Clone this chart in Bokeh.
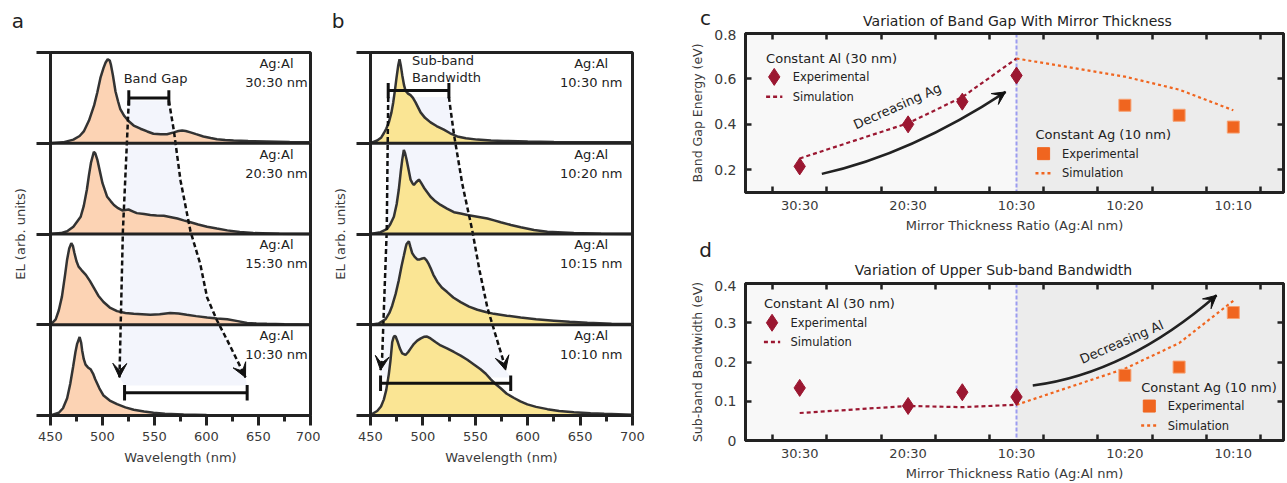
from bokeh.plotting import figure
from bokeh.layouts import row, column
from bokeh.models import Range1d, FixedTicker, LinearAxis, Arrow, VeeHead, Span, BoxAnnotation
from bokeh.core.properties import value
from bokeh.embed import file_html
from bokeh.resources import INLINE

FONT = "DejaVu Sans"
INK = "#222222"
TXT = "#3a3a3a"
CURVE = "#333333"
PEACH = "#fcd0ae"
YELLOW = "#fae38c"
SHADE = "#f3f5fc"
CRIMSON = "#9b1731"
ORANGE = "#f0651f"

# ---------------- data: panel a (EL spectra, constant Al) ----------------
wl_ticks = [450, 500, 550, 600, 650, 700]
wl_minor = [475, 525, 575, 625, 675]
a_names = ["30:30 nm", "20:30 nm", "15:30 nm", "10:30 nm"]
a_wl_3030 = [450, 462, 472, 478, 482, 487, 492, 495, 498, 501, 503, 505, 507, 508, 510, 512.5, 515, 517, 521, 525, 530,
             536.5, 543, 549, 556, 562, 568.6, 573, 576.6, 580, 584.6, 590, 597, 604, 610, 618, 626, 640, 658, 680, 700]
a_el_3030 = [0.0, 0.01, 0.04, 0.08, 0.13, 0.25, 0.42, 0.56, 0.72, 0.83, 0.89, 0.925, 0.91, 0.87, 0.75, 0.57, 0.46, 0.38,
             0.30, 0.245, 0.195, 0.16, 0.13, 0.105, 0.098, 0.10, 0.12, 0.135, 0.14, 0.135, 0.12, 0.10, 0.075, 0.058,
             0.045, 0.036, 0.03, 0.024, 0.02, 0.014, 0.01]
a_wl_2030 = [450, 460, 466, 472, 479, 482, 485, 487, 489, 491.7, 493, 495, 497.5, 500, 504.5, 508, 511, 515, 519, 522,
             525, 529, 533, 540, 546, 552, 559, 566, 572, 578, 584.6, 592, 600.6, 610, 620, 632, 645, 670, 700]
a_el_2030 = [0.0, 0.01, 0.03, 0.08, 0.19, 0.31, 0.49, 0.65, 0.79, 0.906, 0.89, 0.82, 0.69, 0.56, 0.41, 0.36, 0.32,
             0.285, 0.26, 0.265, 0.27, 0.25, 0.23, 0.22, 0.21, 0.205, 0.20, 0.185, 0.17, 0.15, 0.13, 0.105, 0.08,
             0.06, 0.04, 0.022, 0.01, 0.004, 0.0]
a_wl_1530 = [450, 455, 458, 461, 464, 466, 468, 470, 471.5, 473, 475, 477, 480, 484, 488, 492, 496, 501, 507, 514,
             522, 530, 538, 546, 555, 565, 573, 581, 590, 600.6, 610, 620, 630, 639, 648, 658, 675, 700]
a_el_1530 = [0.0, 0.06, 0.16, 0.31, 0.55, 0.72, 0.84, 0.90, 0.87, 0.79, 0.70, 0.64, 0.60, 0.55, 0.48, 0.40, 0.32,
             0.25, 0.19, 0.15, 0.13, 0.12, 0.115, 0.11, 0.115, 0.13, 0.125, 0.11, 0.095, 0.08, 0.07, 0.06, 0.04,
             0.02, 0.014, 0.01, 0.005, 0.0]
a_wl_1030 = [450, 458, 462, 466, 469, 471.8, 474, 475.6, 478, 479.5, 480.4, 482, 483.7, 486, 488.5, 491, 493, 497,
             501, 507, 514, 522, 530, 540, 549, 560, 578, 600, 626, 660, 700]
a_el_1030 = [0.0, 0.03, 0.08, 0.19, 0.35, 0.54, 0.70, 0.79, 0.865, 0.80, 0.72, 0.62, 0.56, 0.53, 0.51, 0.46, 0.40,
             0.30, 0.22, 0.165, 0.125, 0.09, 0.064, 0.045, 0.03, 0.02, 0.01, 0.006, 0.004, 0.002, 0.0]

# ---------------- data: panel b (EL spectra, constant Ag) ----------------
b_names = ["10:30 nm", "10:20 nm", "10:15 nm", "10:10 nm"]
b_wl_1030 = [450, 456.4, 460, 462.7, 465, 467.5, 470, 471.7, 473.5, 474.8, 476.5, 477.7, 479, 480.3, 482, 483.4,
             485.5, 488.2, 490.5, 493, 497.8, 502, 507.3, 513, 520, 526, 532.8, 541, 551.9, 565, 577.4, 600, 625,
             660, 700]
b_el_1030 = [0.0, 0.03, 0.06, 0.11, 0.16, 0.23, 0.34, 0.45, 0.60, 0.72, 0.86, 0.925, 0.85, 0.75, 0.64, 0.58, 0.55,
             0.53, 0.50, 0.45, 0.34, 0.28, 0.23, 0.19, 0.15, 0.11, 0.075, 0.055, 0.04, 0.03, 0.025, 0.02, 0.015,
             0.012, 0.01]
b_wl_1020 = [450, 459.6, 466, 469, 472.3, 475, 477, 479, 480.3, 481.8, 483, 484.4, 486.5, 488.2, 490, 491.4, 493.5,
             496.2, 498.5, 501, 507.3, 512, 516.9, 523, 529.6, 536, 542.4, 552, 561.5, 568, 574.2, 584, 593.3, 606,
             618.8, 644, 670, 700]
b_el_1020 = [0.0, 0.02, 0.056, 0.11, 0.19, 0.33, 0.49, 0.70, 0.82, 0.925, 0.89, 0.82, 0.70, 0.60, 0.56, 0.54, 0.57,
             0.60, 0.56, 0.51, 0.41, 0.36, 0.32, 0.28, 0.24, 0.225, 0.21, 0.19, 0.17, 0.15, 0.13, 0.10, 0.075, 0.045,
             0.026, 0.01, 0.004, 0.0]
b_wl_1015 = [450, 458, 464.3, 468, 470.7, 474, 477, 479.5, 481.8, 483.5, 484.4, 486.6, 488, 489.8, 492, 494.6, 497,
             499.4, 501.5, 503.5, 505.5, 507.3, 510, 513.7, 518, 523.2, 529, 536, 544, 552, 560, 567.8, 580, 593.3,
             608, 625, 640, 657, 680, 700]
b_el_1015 = [0.0, 0.015, 0.06, 0.13, 0.21, 0.34, 0.49, 0.64, 0.76, 0.85, 0.89, 0.918, 0.86, 0.79, 0.75, 0.72, 0.72,
             0.73, 0.735, 0.71, 0.67, 0.625, 0.55, 0.475, 0.41, 0.36, 0.30, 0.25, 0.20, 0.165, 0.14, 0.12, 0.10,
             0.08, 0.06, 0.045, 0.032, 0.022, 0.012, 0.007]
b_wl_1010 = [450, 456.4, 460, 462.7, 465, 467.5, 469, 470.7, 472, 472.9, 474, 476.1, 478, 480.3, 483.4, 486, 488.2,
             491.5, 494.6, 498, 501, 504, 507.3, 512, 516.9, 523, 529.6, 536, 542.4, 549, 555, 560, 564.6, 569,
             574.2, 580, 587, 593, 599.7, 608, 618.8, 630, 644, 660, 673, 700]
b_el_1010 = [0.007, 0.05, 0.10, 0.175, 0.28, 0.456, 0.60, 0.807, 0.86, 0.877, 0.87, 0.807, 0.74, 0.684, 0.667, 0.70,
             0.737, 0.79, 0.825, 0.85, 0.867, 0.87, 0.849, 0.81, 0.772, 0.74, 0.70, 0.66, 0.614, 0.56, 0.51, 0.46,
             0.40, 0.35, 0.30, 0.24, 0.193, 0.155, 0.123, 0.095, 0.07, 0.05, 0.035, 0.025, 0.018, 0.007]

# ---------------- data: panels c, d ----------------
cat_labels = ["30:30", "20:30", "10:30", "10:20", "10:10"]
cat_pos = [0, 1, 2, 3, 4]
cat_minor = [-0.25, 0.25, 0.75, 1.25, 1.75, 2.25, 2.75, 3.25, 3.75, 4.25]
al_x = [0, 1, 1.5, 2]          # 30:30, 20:30, 15:30, 10:30
ag_x = [3, 3.5, 4]             # 10:20, 10:15, 10:10
ag_sim_x = [2, 3, 3.5, 4]
bg_al_exp = [0.215, 0.40, 0.50, 0.615]
bg_al_sim = [0.25, 0.405, 0.52, 0.69]
bg_ag_exp = [0.484, 0.44, 0.388]
bg_ag_sim = [0.69, 0.61, 0.553, 0.462]
sb_al_exp = [0.134, 0.088, 0.123, 0.111]
sb_al_sim = [0.070, 0.088, 0.085, 0.091]
sb_ag_exp = [0.166, 0.187, 0.326]
sb_ag_sim = [0.091, 0.183, 0.248, 0.356]
bg_ticks = [0.2, 0.4, 0.6, 0.8]
bg_tick_labels = ["0.2", "0.4", "0.6", "0.8"]
sb_ticks = [0, 0.1, 0.2, 0.3, 0.4]
sb_tick_labels = ["0", "0.1", "0.2", "0.3", "0.4"]

OFFSETS = [3, 2, 1, 0]


def style_axis(ax, size="13px"):
    ax.axis_line_width = 3
    ax.axis_line_color = INK
    ax.major_tick_line_width = 3
    ax.major_tick_line_color = INK
    ax.minor_tick_line_width = 3
    ax.minor_tick_line_color = INK
    ax.major_label_text_font = FONT
    ax.major_label_text_font_size = size
    ax.major_label_text_color = TXT
    ax.axis_label_text_font = FONT
    ax.axis_label_text_font_size = size
    ax.axis_label_text_font_style = "normal"
    ax.axis_label_text_color = TXT


def hide_labels(ax, ticks):
    ax.major_label_overrides = {t: "" for t in ticks}
    ax.major_label_text_font_size = "0px"
    ax.major_label_text_color = None
    ax.major_label_standoff = 0


def header(width, height, items):
    """A strip above a panel holding its letter and title; items are (x, y from top, text, size)."""
    h = figure(width=width, height=height, x_range=Range1d(0, width), y_range=Range1d(0, height),
               min_border=0, x_axis_type=None, y_axis_type=None, toolbar_location=None,
               output_backend="svg", title=None, frame_align=False)
    h.outline_line_color = None
    h.grid.visible = False
    for x, y, text, size in items:
        h.text(x=[x], y=[height - y], text=[text], text_font=value(FONT), text_font_size=size,
               text_color=INK, text_align="center", text_baseline="middle")
    return h


def head(p, xs, ys, size=14):
    p.add_layout(Arrow(end=VeeHead(size=size, fill_color="#111111", line_color="#111111", line_width=1),
                       x_start=xs[-2], y_start=ys[-2], x_end=xs[-1], y_end=ys[-1], line_alpha=0))


def spectra_panel(spectra, names, fill, name_x, border_left, border_right, frame_w, ann):
    p = figure(frame_width=frame_w, frame_height=363, min_border_left=border_left, min_border_right=border_right,
               min_border_top=12, min_border_bottom=66, x_range=Range1d(450, 700), y_range=Range1d(0, 4),
               output_backend="svg", toolbar_location=None, title=None)
    p.grid.visible = False
    p.outline_line_color = INK
    p.outline_line_width = 3
    p.background_fill_color = "white"
    style_axis(p.xaxis[0])
    style_axis(p.yaxis[0])
    p.xaxis.ticker = FixedTicker(ticks=wl_ticks, minor_ticks=wl_minor)
    p.xaxis.major_tick_out = 10
    p.xaxis.major_tick_in = 0
    p.xaxis.minor_tick_out = 6
    p.xaxis.minor_tick_in = 0
    p.xaxis.major_label_standoff = 6
    p.xaxis.axis_label = "Wavelength (nm)"
    p.xaxis.axis_label_standoff = 6
    p.yaxis.ticker = FixedTicker(ticks=[0, 1, 2, 3, 4])
    p.yaxis.major_tick_out = 14
    p.yaxis.major_tick_in = 0
    hide_labels(p.yaxis[0], [0, 1, 2, 3, 4])
    p.yaxis.axis_label = "EL (arb. units)"
    p.yaxis.axis_label_standoff = 9

    (bar, bar_y, ldx, ldy, rdx, rdy, bbar, bbar_y, shade_y, note, note_x, note_y) = ann
    sx = rdx + [bbar[1], bbar[0]] + ldx[::-1]
    sy = rdy + [shade_y, shade_y] + ldy[::-1]
    p.patch(sx, sy, fill_color=SHADE, fill_alpha=1, line_alpha=0)

    for (wl, el), off in zip(spectra, OFFSETS):
        p.varea(x=wl, y1=[off] * len(wl), y2=[off + v for v in el], fill_color=fill, fill_alpha=0.93)
    for (wl, el), off in zip(spectra, OFFSETS):
        p.line(x=wl, y=[off + v for v in el], line_color=CURVE, line_width=2.5)

    for off in [1, 2, 3]:
        p.add_layout(Span(location=off, dimension="width", line_color=INK, line_width=3))

    p.line(ldx, ldy, line_color="#111111", line_width=2.5, line_dash="5 3")
    p.line(rdx, rdy, line_color="#111111", line_width=2.5, line_dash="5 3")
    head(p, ldx, ldy)
    head(p, rdx, rdy)
    for b, y in [(bar, bar_y), (bbar, bbar_y)]:
        p.segment(x0=[b[0]], y0=[y], x1=[b[1]], y1=[y], line_color="#111111", line_width=3)
        p.segment(x0=b, y0=[y - 0.085] * 2, x1=b, y1=[y + 0.085] * 2, line_color="#111111", line_width=3)
    p.text(x=[note_x] * len(note), y=note_y, text=note, text_font=value(FONT), text_font_size="13px",
           text_color=INK, text_align="left" if len(note) > 1 else "center", text_baseline="middle")

    p.text(x=[name_x] * 4, y=[o + 0.88 for o in OFFSETS], text=["Ag:Al"] * 4, text_font=value(FONT),
           text_font_size="13px", text_color=INK, text_align="center", text_baseline="middle")
    p.text(x=[name_x] * 4, y=[o + 0.67 for o in OFFSETS], text=names, text_font=value(FONT),
           text_font_size="13px", text_color=INK, text_align="center", text_baseline="middle")
    return p


ann_a = ([525.3, 563.8], 3.50,
         [525.3, 519.6, 516.3], [3.47, 2.03, 0.42],
         [563.8, 568.6, 575.0, 584.6, 594.0, 600.6, 610.0, 619.9, 629.0, 637.5],
         [3.47, 3.14, 2.59, 2.03, 1.67, 1.30, 1.05, 0.83, 0.62, 0.42],
         [521.2, 639.1], 0.25, 0.33,
         ["Band Gap"], 551.0, [3.71])
ann_b = ([466.9, 524.8], 3.58,
         [466.9, 465.5, 461.1, 459.6], [3.51, 2.04, 0.64, 0.50],
         [524.8, 529.6, 537.6, 547.1, 554.0, 561.5, 569.0, 575.8, 579.0],
         [3.51, 3.10, 2.55, 2.04, 1.60, 1.19, 0.90, 0.64, 0.50],
         [459.6, 583.8], 0.356, 0.42,
         ["Sub-band", "Bandwidth"], 489.5, [3.91, 3.73])

pa = spectra_panel([(a_wl_3030, a_el_3030), (a_wl_2030, a_el_2030), (a_wl_1530, a_el_1530), (a_wl_1030, a_el_1030)],
                   a_names, PEACH, 667.3, 50, 10, 260, ann_a)
pb = spectra_panel([(b_wl_1030, b_el_1030), (b_wl_1020, b_el_1020), (b_wl_1015, b_el_1015), (b_wl_1010, b_el_1010)],
                   b_names, YELLOW, 660.6, 50, 53, 262, ann_b)
ha = header(320, 40, [(17.5, 20.5, "a", "20px")])
hb = header(365, 40, [(17.5, 20.5, "b", "20px")])

FRAME_W = 538


def trend_panel(ylabel, y_lo, y_hi, yticks, ylabels, frame_h, top, bottom):
    p = figure(frame_width=FRAME_W, frame_height=frame_h, min_border_left=60, min_border_right=2,
               min_border_top=top, min_border_bottom=bottom, x_range=Range1d(-0.5, -0.5 + FRAME_W / 108.4),
               y_range=Range1d(y_lo, y_hi), output_backend="svg", toolbar_location=None, title=None)
    p.grid.visible = False
    p.background_fill_color = "#f8f8f8"
    p.outline_line_color = INK
    p.outline_line_width = 3
    p.add_layout(BoxAnnotation(left=2, fill_color="#ececec", fill_alpha=1, line_alpha=0, level="underlay"))
    p.add_layout(Span(location=2, dimension="height", line_color="#9c9cf0", line_dash="4 2", line_width=2,
                      level="underlay"))

    xt = FixedTicker(ticks=cat_pos, minor_ticks=cat_minor)
    yt = FixedTicker(ticks=yticks)
    ax = p.xaxis[0]
    style_axis(ax)
    ax.ticker = xt
    ax.major_label_overrides = dict(zip(cat_pos, cat_labels))
    ax.major_tick_in = 0
    ax.major_tick_out = 0
    ax.minor_tick_in = 6
    ax.minor_tick_out = 0
    ax.minor_tick_line_width = 2.5
    ax.major_label_standoff = 5
    ax.axis_label = "Mirror Thickness Ratio (Ag:Al nm)"
    ax.axis_label_standoff = 2
    ay = p.yaxis[0]
    style_axis(ay)
    ay.ticker = yt
    ay.major_label_overrides = dict(zip(yticks, ylabels))
    ay.major_tick_in = 6
    ay.major_tick_out = 0
    ay.major_tick_line_width = 2.5
    ay.major_label_standoff = 9
    ay.major_label_text_font_size = "14px"
    ay.axis_label = ylabel
    ay.axis_label_text_font_size = "12.5px"
    ay.axis_label_standoff = 6

    top_ax = LinearAxis(ticker=xt, major_tick_in=0, major_tick_out=0, minor_tick_in=6, minor_tick_out=0)
    style_axis(top_ax)
    hide_labels(top_ax, cat_pos)
    top_ax.minor_tick_line_width = 2.5
    p.add_layout(top_ax, "above")
    right_ax = LinearAxis(ticker=yt, major_tick_in=6, major_tick_out=0)
    style_axis(right_ax)
    hide_labels(right_ax, yticks)
    right_ax.major_tick_line_width = 2.5
    p.add_layout(right_ax, "right")
    return p


def legend_block(p, x, y_title, y_mark, y_sim, title, marker, color, msize, dash):
    p.text(x=[x], y=[y_title], text=[title], text_font=value(FONT), text_font_size="13px", text_color=INK,
           text_align="left", text_baseline="middle")
    p.scatter(x=[x + 0.075], y=[y_mark], marker=marker, size=msize, fill_color=color, line_color=color)
    p.line(x=[x, x + 0.15], y=[y_sim, y_sim], line_color=color, line_width=2.5, line_dash=dash)
    p.text(x=[x + 0.245, x + 0.245], y=[y_mark, y_sim], text=["Experimental", "Simulation"],
           text_font=value(FONT), text_font_size="11.5px", text_color=INK, text_align="left",
           text_baseline="middle")


def curved_arrow(p, x0, y0, x1, y1, cx, cy, label, lx, ly, angle):
    p.quadratic(x0=[x0], y0=[y0], x1=[x1], y1=[y1], cx=[cx], cy=[cy], line_color="#222222", line_width=2.5)
    head(p, [x1 - 0.04 * (x1 - cx), x1], [y1 - 0.04 * (y1 - cy), y1], size=13)
    p.text(x=[lx], y=[ly], text=[label], angle=angle, text_font=value(FONT), text_font_size="13px",
           text_color=INK, text_align="center", text_baseline="middle")


# panel c
hc = header(600, 29, [(20, 17, "c", "20px"), (332, 20, "Variation of Band Gap With Mirror Thickness", "14px")])
pc = trend_panel("Band Gap Energy (eV)", 0.1, 0.8, bg_ticks, bg_tick_labels, 159, 4, 44)
pc.line(al_x, bg_al_sim, line_color=CRIMSON, line_width=2.2, line_dash="4 3")
pc.line(ag_sim_x, bg_ag_sim, line_color=ORANGE, line_width=2.2, line_dash="3 3")
pc.scatter(al_x, bg_al_exp, marker="diamond", size=17, fill_color=CRIMSON, line_color=CRIMSON)
pc.scatter(ag_x, bg_ag_exp, marker="square", size=12, fill_color=ORANGE, line_color="#f7a070")
legend_block(pc, -0.31, 0.69, 0.609, 0.521, "Constant Al (30 nm)", "diamond", CRIMSON, 17, "4 3")
legend_block(pc, 2.175, 0.354, 0.271, 0.185, "Constant Ag (10 nm)", "square", ORANGE, 12, "3 3")
curved_arrow(pc, 0.204, 0.182, 1.9, 0.543, 1.03, 0.27, "Decreasing Ag", 0.9, 0.48, 0.42)

# panel d
hd = header(600, 44, [(20, 13, "d", "20px"), (308, 33, "Variation of Upper Sub-band Bandwidth", "14px")])
pd = trend_panel("Sub-band Bandwidth (eV)", 0, 0.4, sb_ticks, sb_tick_labels, 157, 3, 41)
pd.line(al_x, sb_al_sim, line_color=CRIMSON, line_width=2.2, line_dash="4 3")
pd.line(ag_sim_x, sb_ag_sim, line_color=ORANGE, line_width=2.2, line_dash="3 3")
pd.scatter(al_x, sb_al_exp, marker="diamond", size=17, fill_color=CRIMSON, line_color=CRIMSON)
pd.scatter(ag_x, sb_ag_exp, marker="square", size=12, fill_color=ORANGE, line_color="#f7a070")
legend_block(pd, -0.33, 0.349, 0.30, 0.251, "Constant Al (30 nm)", "diamond", CRIMSON, 17, "4 3")
legend_block(pd, 3.15, 0.136, 0.0877, 0.038, "Constant Ag (10 nm)", "square", ORANGE, 12, "3 3")
curved_arrow(pd, 2.15, 0.14, 3.846, 0.37, 3.016, 0.171, "Decreasing Al", 2.97, 0.251, 0.41)

layout = row(column(ha, pa), column(hb, pb), column(hc, pc, hd, pd))
open("out.html", "w").write(file_html(layout, INLINE))
